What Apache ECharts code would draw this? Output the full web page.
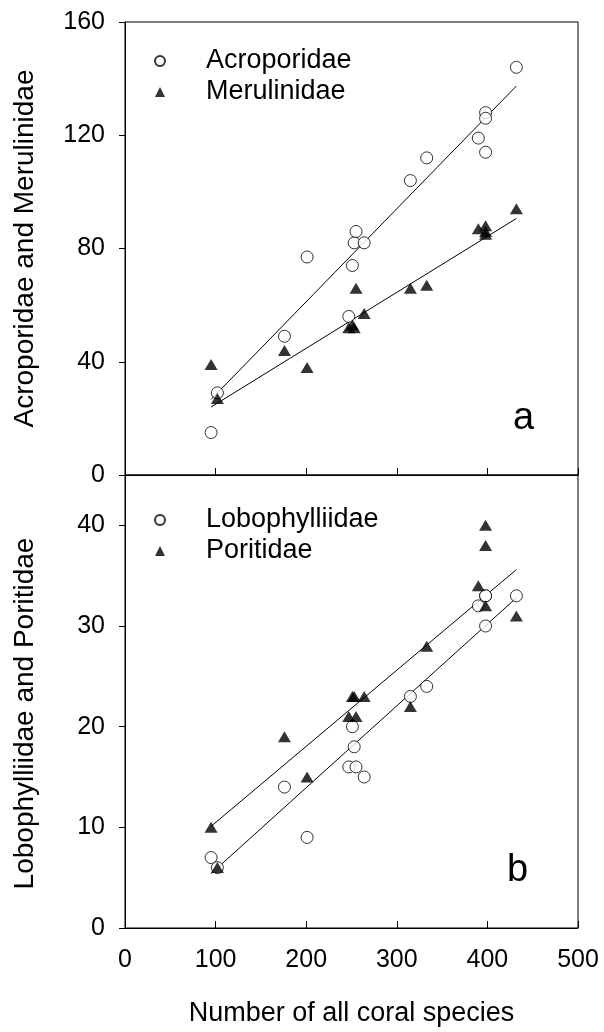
<!DOCTYPE html>
<html>
<head>
<meta charset="utf-8">
<script src="https://cdn.jsdelivr.net/npm/echarts@6/dist/echarts.min.js"></script>
<style>html,body{margin:0;padding:0;background:#fff;}#c{width:604px;height:1032px;}</style>
</head>
<body>
<div id="c"></div>
<script>
// Number of all coral species at each site
var siteSpecies = [95, 102, 176, 201, 247, 251, 253, 255, 264, 315, 333, 390, 398, 398, 398, 432];
// Panel a
var acroporidae = [15, 29, 49, 77, 56, 74, 82, 86, 82, 104, 112, 119, 128, 126, 114, 144];
var merulinidae = [39, 27, 44, 38, 52, 53, 52, 66, 57, 66, 67, 87, 88, 86, 85, 94];
// Panel b
var lobophylliidae = [7, 6, 14, 9, 16, 20, 18, 16, 15, 23, 24, 32, 33, 30, 33, 33];
var poritidae = [10, 6, 19, 15, 21, 23, 23, 21, 23, 22, 28, 34, 40, 38, 32, 31];
// Fitted regression lines at the ends of the x range
var fitX = [95, 432];
var acroFit = [26.7, 137.4];
var meruFit = [24.0, 90.6];
var loboFit = [5.4, 32.8];
var poriFit = [10.1, 35.6];
var xTicks = [0, 100, 200, 300, 400, 500];
var yTicksA = [0, 40, 80, 120, 160];
var yTicksB = [0, 10, 20, 30, 40];

var FONT = 'Liberation Sans, Arial, sans-serif';
function zip(xs, ys) { return xs.map(function (x, i) { return [x, ys[i]]; }); }

var circleStyle = { color: '#fff', borderColor: '#000', borderWidth: 1 };
var triStyle = { color: '#000' };

function scatter(name, vals, idx, sym) {
  return {
    name: name, type: 'scatter', xAxisIndex: idx, yAxisIndex: idx,
    data: zip(siteSpecies, vals),
    symbol: sym, symbolSize: sym === 'circle' ? 12 : [13, 11],
    itemStyle: sym === 'circle' ? circleStyle : triStyle,
    z: sym === 'circle' ? 3 : 4
  };
}
function fitLine(name, vals, idx) {
  return {
    name: name, type: 'line', xAxisIndex: idx, yAxisIndex: idx,
    data: zip(fitX, vals), symbol: 'none', silent: true,
    lineStyle: { color: '#000', width: 1 }, z: 2
  };
}
function xAxis(idx, showLabels) {
  return {
    type: 'value', gridIndex: idx, min: xTicks[0], max: xTicks[xTicks.length - 1], interval: 100,
    axisLine: { lineStyle: { color: '#000', width: 1 } },
    axisTick: { inside: true, length: 7, lineStyle: { color: '#000' } },
    axisLabel: { show: showLabels, fontSize: 25, color: '#000', fontFamily: FONT, margin: 20 },
    splitLine: { show: false },
    name: showLabels ? 'Number of all coral species' : '',
    nameLocation: 'middle', nameGap: 72,
    nameTextStyle: { fontSize: 27, color: '#000', fontFamily: FONT }
  };
}
function yAxis(idx, max, interval, name, pad) {
  return {
    type: 'value', gridIndex: idx, min: 0, max: max, interval: interval,
    axisLine: { show: true, lineStyle: { color: '#000', width: 1 } },
    axisTick: { show: true, inside: false, length: 6, lineStyle: { color: '#000' } },
    axisLabel: { fontSize: 25, color: '#000', fontFamily: FONT, margin: 20, showMaxLabel: idx === 0 },
    splitLine: { show: false },
    name: name, nameLocation: 'middle', nameGap: 86,
    nameTextStyle: { fontSize: 28, color: '#000', fontFamily: FONT, padding: pad }
  };
}
function legend(top, names) {
  return {
    orient: 'vertical', left: 149, top: top, itemWidth: 10, itemHeight: 10, itemGap: 1,
    data: names, selectedMode: false,
    textStyle: { fontSize: 27, color: '#000', fontFamily: FONT, padding: [0, 0, 0, 36], lineHeight: 30 }
  };
}

var chart = echarts.init(document.getElementById('c'), null, { renderer: 'canvas' });
chart.setOption({
  backgroundColor: '#fff',
  animation: false,
  grid: [
    { left: 125, right: 26, top: 22, height: 453, show: true, borderColor: '#000', borderWidth: 1 },
    { left: 125, right: 26, top: 475, height: 453, show: true, borderColor: '#000', borderWidth: 1 }
  ],
  xAxis: [xAxis(0, false), xAxis(1, true)],
  yAxis: [
    yAxis(0, 160, 40, 'Acroporidae and Merulinidae', [0, 0, 0, 0]),
    yAxis(1, 45, 10, 'Lobophylliidae and Poritidae', [0, 24, 0, 0])
  ],
  legend: [legend(41, ['Acroporidae', 'Merulinidae']), legend(500, ['Lobophylliidae', 'Poritidae'])],
  graphic: [
    { type: 'text', left: 513, top: 400, style: { text: 'a', font: '38px ' + FONT, fill: '#000' } },
    { type: 'text', left: 507, top: 852, style: { text: 'b', font: '38px ' + FONT, fill: '#000' } }
  ],
  series: [
    fitLine('acroFit', acroFit, 0),
    fitLine('meruFit', meruFit, 0),
    scatter('Acroporidae', acroporidae, 0, 'circle'),
    scatter('Merulinidae', merulinidae, 0, 'triangle'),
    fitLine('loboFit', loboFit, 1),
    fitLine('poriFit', poriFit, 1),
    scatter('Lobophylliidae', lobophylliidae, 1, 'circle'),
    scatter('Poritidae', poritidae, 1, 'triangle')
  ]
});
</script>
</body>
</html>
